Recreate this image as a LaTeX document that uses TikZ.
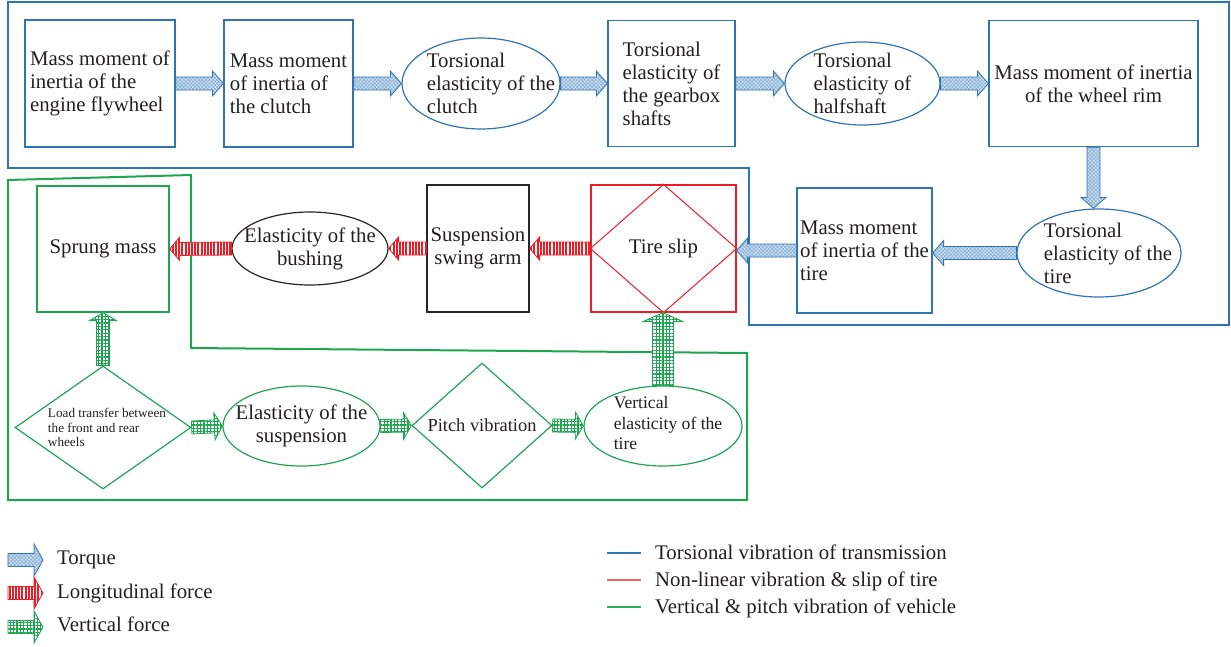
\documentclass[tikz,border=0pt]{standalone}
\usepackage{fontspec}
\setmainfont{Liberation Serif}
\usetikzlibrary{shapes.geometric,calc,patterns.meta}
\definecolor{myblue}{RGB}{46,117,182}
\definecolor{myred}{RGB}{237,28,36}
\definecolor{mygreen}{RGB}{30,165,80}
\definecolor{lgred}{RGB}{240,100,100}
\definecolor{lggreen}{RGB}{40,180,90}
\definecolor{txtc}{RGB}{35,31,32}
\tikzset{
  blockarrow/.style n args={3}{to path={
    let \p1=(\tikztostart), \p2=(\tikztotarget), \p3=($(\p2)!#3!(\p1)$) in
    ($(\p1)!#1!90:(\p2)$) -- ($(\p3)!#1!-90:(\p1)$) -- ($(\p3)!#2!-90:(\p1)$) --
    (\p2) -- ($(\p3)!#2!90:(\p1)$) -- ($(\p3)!#1!90:(\p1)$) -- ($(\p1)!#1!-90:(\p2)$) -- cycle}},
  torque/.style={blockarrow={6.5pt}{12.5pt}{11pt}, draw=myblue, line width=0.8pt,
    preaction={fill=myblue!22}, pattern={Hatch[angle=45,distance=2.6pt,line width=0.7pt]}, pattern color=myblue!55},
  longf/.style={blockarrow={6.5pt}{11.5pt}{10pt}, draw=myred, line width=0.8pt,
    preaction={fill=white}, pattern={Lines[angle=90,distance=3.2pt,line width=2pt]}, pattern color=myred},
  vertf/.style={blockarrow={6.5pt}{13.5pt}{8pt}, draw=mygreen, line width=0.8pt,
    preaction={fill=white}, pattern={Hatch[angle=0,distance=3.4pt,line width=1.3pt]}, pattern color=mygreen},
  txt/.style={font=\fontsize{20.8}{23}\selectfont, text=txtc, align=left, inner sep=0pt},
  bbox/.style={draw=myblue, line width=1.2pt, rectangle, inner sep=0pt, txt},
  bell/.style={draw=myblue, line width=1.2pt, ellipse, inner sep=0pt},
  gbox/.style={draw=mygreen, line width=1.2pt, rectangle, inner sep=0pt, txt},
  gell/.style={draw=mygreen, line width=1.2pt, ellipse, inner sep=0pt},
  gdia/.style={draw=mygreen, line width=1.2pt, diamond, inner sep=0pt},
  kbox/.style={draw=black!85, line width=1.2pt, rectangle, inner sep=0pt, txt},
  kell/.style={draw=black!85, line width=1.2pt, ellipse, inner sep=0pt},
  rbox/.style={draw=myred, line width=1.2pt, rectangle, inner sep=0pt, txt},
  legtxt/.style={txt, anchor=base west},
  legline/.style={line width=1.3pt},
}
\begin{document}
\begin{tikzpicture}[x=1pt,y=-1pt]
\useasboundingbox (0,0) rectangle (1231,646);
% group borders
\draw[myblue, line width=2pt] (8,1.5) -- (1229,1.5) -- (1229,325) -- (749,325) -- (749,168) -- (8,168) -- cycle;
\draw[mygreen, line width=2pt] (8,180) -- (191,175) -- (191,348) -- (747,353) -- (747,500) -- (8,500) -- cycle;
% transmission
\node[bbox, minimum width=150pt, minimum height=127pt] (b1) at (100,83.5) {Mass moment of\\inertia of the\\engine flywheel};
\node[bbox, minimum width=129pt, minimum height=127pt] (b2) at (288.5,83.5) {Mass moment\\of inertia of\\the clutch};
\node[bell, minimum width=158pt, minimum height=91pt,
  label={[txt, xshift=10pt]center:{Torsional\\elasticity of the\\clutch}}] (e3) at (481,83.5) {};
\node[bbox, minimum width=127pt, minimum height=126pt] (b4) at (671.5,83.5) {Torsional\\elasticity of\\the gearbox\\shafts};
\node[bell, minimum width=155pt, minimum height=83pt,
  label={[txt]center:{Torsional\\elasticity of\\halfshaft}}] (e5) at (862.5,83.5) {};
\node[bbox, align=center, minimum width=209pt, minimum height=126pt] (b6) at (1093.5,83.5) {Mass moment of inertia\\of the wheel rim};
\node[bell, minimum width=164pt, minimum height=88pt,
  label={[txt, xshift=9pt]center:{Torsional\\elasticity of the\\tire}}] (e7) at (1099,253) {};
\node[bbox, minimum width=135pt, minimum height=125pt] (b8) at (864.5,250.5) {Mass moment\\of inertia of the\\tire};
% tire / suspension
\node[rbox, minimum width=145pt, minimum height=127pt] (ts) at (663.5,248.5) {Tire slip};
\draw[myred, line width=1pt] (ts.north) -- (ts.east) -- (ts.south) -- (ts.west) -- cycle;
\node[kbox, align=center, minimum width=102pt, minimum height=127pt] (sa) at (478,248.5) {Suspension\\swing arm};
\node[kell, minimum width=156pt, minimum height=73pt,
  label={[txt, align=center]center:{Elasticity of the\\bushing}}] (bu) at (310,248.5) {};
\node[gbox, minimum width=132pt, minimum height=126pt] (sm) at (103,249) {Sprung mass};
% vertical group
\node[gdia, minimum width=176pt, minimum height=123pt,
  label={[txt, font=\fontsize{13.2}{14.5}\selectfont, xshift=4pt]center:{Load transfer between\\the front and rear\\wheels}}] (lt) at (103,427.5) {};
\node[gell, minimum width=157pt, minimum height=80pt,
  label={[txt, align=center]center:{Elasticity of the\\suspension}}] (es) at (301.5,426) {};
\node[gdia, minimum width=140pt, minimum height=125pt,
  label={[txt, font=\fontsize{18.4}{21}\selectfont]center:{Pitch vibration}}] (pv) at (482,425.5) {};
\node[gell, minimum width=158pt, minimum height=80pt,
  label={[txt, font=\fontsize{17.6}{20.5}\selectfont, xshift=5pt, yshift=3pt]center:{Vertical\\elasticity of the\\tire}}] (vt) at (663,426) {};
% torque arrows
\draw[torque] (b1.east) to (b2.west);
\draw[torque] (b2.east) to (e3.west);
\draw[torque] (e3.east) to (b4.west);
\draw[torque] (b4.east) to (e5.west);
\draw[torque] (e5.east) to (b6.west);
\draw[torque] (b6.south) to (b6.south |- e7.north);
\draw[torque] (e7.west) to (e7.west -| b8.east);
\draw[torque] (b8.west) to (b8.west -| ts.east);
% longitudinal force arrows
\draw[longf] (ts.west) to (sa.east);
\draw[longf] (sa.west) to (bu.east);
\draw[longf] (bu.west) to (sm.east);
% vertical force arrows
\draw[vertf] (lt.north) to (sm.south);
\draw[vertf] (lt.east) to (es.west);
\draw[vertf] (es.east) to (pv.west);
\draw[vertf] (pv.east) to (vt.west);
\draw[vertf, blockarrow={10.5pt}{20pt}{9pt}] (vt.north) to (vt.north |- ts.south);
% legend
\coordinate (la1) at (8,560); \coordinate (la2) at (43,560);
\coordinate (lb1) at (8,593); \coordinate (lb2) at (43,593);
\coordinate (lc1) at (8,627); \coordinate (lc2) at (43,627);
\draw[torque, blockarrow={6.5pt}{16pt}{9pt}] (la1) to (la2);
\draw[longf, blockarrow={6.5pt}{16pt}{9pt}] (lb1) to (lb2);
\draw[vertf, blockarrow={6.5pt}{16pt}{9pt}] (lc1) to (lc2);
\node[legtxt] (lta) at (57,564) {Torque};
\node[legtxt] (ltb) at (57,598) {Longitudinal force};
\node[legtxt] (ltc) at (57,631) {Vertical force};
\draw[legline, myblue] (607,553) -- (641,553);
\draw[legline, lgred] (607,580) -- (641,580);
\draw[legline, lggreen] (607,607) -- (641,607);
\node[legtxt] (lla) at (655,559) {Torsional vibration of transmission};
\node[legtxt] (llb) at (655,586) {Non-linear vibration \& slip of tire};
\node[legtxt] (llc) at (655,613) {Vertical \& pitch vibration of vehicle};
\end{tikzpicture}
\end{document}
